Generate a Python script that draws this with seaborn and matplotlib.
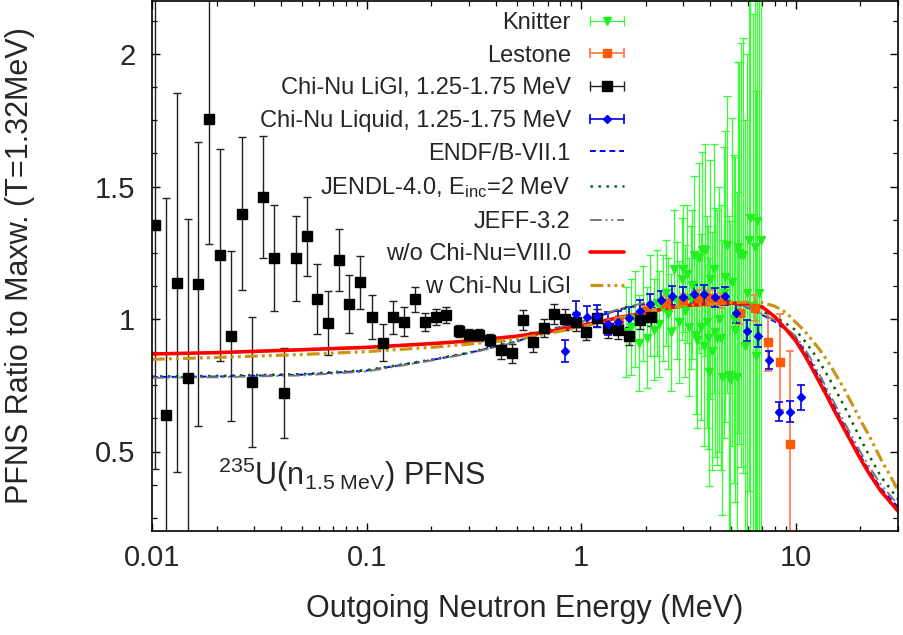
import numpy as np
import pandas as pd
import matplotlib
matplotlib.use("Agg")
import matplotlib.pyplot as plt
import seaborn as sns
from matplotlib.legend_handler import HandlerBase
from matplotlib.lines import Line2D
from matplotlib.container import ErrorbarContainer
from matplotlib.ticker import LogLocator, MultipleLocator, NullFormatter, FixedLocator, FixedFormatter

# ---------------- data ----------------
# Knitter
E_knit = [1.62, 1.70, 1.78, 1.86, 1.94, 2.03, 2.10, 2.18, 2.26, 2.31, 2.40, 2.48, 2.55, 2.63,
          2.71, 2.79, 2.86, 2.94, 2.99, 3.06, 3.12, 3.18, 3.24, 3.30, 3.35, 3.42, 3.48, 3.56,
          3.62, 3.67, 3.74, 3.80, 3.86, 3.91, 3.96, 4.01, 4.08, 4.16, 4.23, 4.31, 4.39, 4.47,
          4.55, 4.63, 4.71, 4.79, 4.88, 4.97, 5.06, 5.15, 5.24, 5.33, 5.40, 5.47, 5.58, 5.69,
          5.80, 5.94, 6.05, 6.15, 6.30, 6.44, 6.52, 6.61, 6.75, 6.92]
R_knit = [0.95, 0.97, 1.00, 0.91, 1.02, 0.93, 1.05, 0.96, 1.06, 0.98, 1.04, 1.10, 1.02, 0.95,
          1.19, 1.07, 0.99, 1.15, 1.19, 1.03, 1.17, 0.97, 1.08, 1.13, 1.24, 0.94, 0.92, 1.23,
          0.97, 1.26, 0.90, 1.26, 0.99, 0.93, 0.80, 1.15, 0.88, 1.19, 0.95, 0.93, 1.00, 0.93,
          0.78, 1.10, 1.16, 1.28, 0.79, 0.77, 1.14, 1.00, 0.96, 0.78, 1.27, 1.25, 1.24, 1.24,
          0.90, 1.10, 1.30, 1.38, 1.05, 1.27, 0.86, 1.37, 1.10, 1.30]
err_knit = [0.17, 0.18, 0.18, 0.18, 0.18, 0.19, 0.19, 0.19, 0.20, 0.20, 0.20, 0.20, 0.21, 0.22,
            0.22, 0.22, 0.23, 0.23, 0.24, 0.25, 0.26, 0.26, 0.27, 0.28, 0.30, 0.30, 0.33, 0.36,
            0.35, 0.37, 0.38, 0.40, 0.40, 0.42, 0.43, 0.45, 0.45, 0.47, 0.47, 0.48, 0.50, 0.50,
            0.52, 0.55, 0.55, 0.56, 0.60, 0.60, 0.62, 0.62, 0.65, 0.70, 0.70, 0.72, 0.80, 0.82,
            0.85, 0.90, 0.95, 1.20, 1.10, 1.30, 1.00, 1.20, 1.20, 1.20]

# Lestone
E_les = [1.5, 2.0, 2.5, 3.0, 3.5, 4.0, 4.5, 5.52, 6.44, 7.43, 8.49, 9.44]
R_les = [0.99, 1.03, 1.06, 1.07, 1.08, 1.08, 1.07, 1.022, 1.041, 0.914, 0.837, 0.528]
err_les = [0.02, 0.02, 0.025, 0.025, 0.03, 0.03, 0.03, 0.04, 0.05, 0.11, 0.18, 0.35]

# Chi-Nu LiGl
E_ligl = [0.01037, 0.01164, 0.01307, 0.01466, 0.0164, 0.0184, 0.0207, 0.0234, 0.0262, 0.0294,
          0.0330, 0.0370, 0.0414, 0.0468, 0.0526, 0.0588, 0.0660, 0.0741, 0.0829, 0.0933,
          0.1056, 0.1189, 0.1325, 0.1488, 0.1675, 0.188, 0.2114, 0.2358, 0.2686, 0.2992,
          0.336, 0.378, 0.4236, 0.4742, 0.537, 0.600, 0.673, 0.748, 0.843, 0.945, 1.059,
          1.19, 1.336, 1.49, 1.672, 1.88, 2.12]
R_ligl = [1.353, 0.636, 1.136, 0.778, 1.132, 1.754, 1.240, 0.936, 1.398, 0.762, 1.460, 1.229,
          0.721, 1.229, 1.312, 1.074, 0.985, 1.222, 1.057, 1.139, 1.009, 0.911, 1.006, 0.989,
          1.074, 0.989, 1.006, 1.015, 0.955, 0.940, 0.940, 0.921, 0.883, 0.870, 0.996, 0.914,
          0.965, 1.019, 0.999, 0.990, 0.952, 1.003, 0.965, 0.958, 0.936, 0.996, 1.009]
err_ligl = [0.92, 0.82, 0.715, 0.60, 0.535, 0.47, 0.40, 0.32, 0.29, 0.245, 0.23, 0.20, 0.17,
            0.16, 0.148, 0.132, 0.12, 0.116, 0.108, 0.10, 0.083, 0.07, 0.062, 0.055, 0.047,
            0.035, 0.03, 0.03, 0.022, 0.022, 0.022, 0.023, 0.033, 0.035, 0.038, 0.038, 0.034,
            0.036, 0.039, 0.035, 0.031, 0.035, 0.035, 0.035, 0.035, 0.035, 0.035]

# Chi-Nu Liquid
E_liq = [0.84, 0.945, 1.06, 1.19, 1.336, 1.49, 1.67, 1.88, 2.1, 2.37, 2.66, 2.98, 3.35, 3.76,
         4.2, 4.71, 5.3, 5.94, 6.68, 7.49, 8.39, 9.37, 10.6]
R_liq = [0.880, 1.019, 1.006, 1.011, 0.983, 0.990, 1.005, 1.03, 1.055, 1.072, 1.088, 1.084,
         1.094, 1.094, 1.082, 1.087, 1.021, 0.956, 0.936, 0.845, 0.650, 0.650, 0.704]
err_liq = [0.041, 0.05, 0.042, 0.043, 0.042, 0.04, 0.04, 0.04, 0.04, 0.035, 0.035, 0.035,
           0.035, 0.035, 0.035, 0.035, 0.035, 0.04, 0.04, 0.035, 0.035, 0.04, 0.047]

# evaluated curves (energy grid in MeV)
E_curve = [0.01, 0.02, 0.05, 0.1, 0.2, 0.3, 0.5, 0.7, 1.0, 1.5, 2.0, 2.5, 3.0, 4.0, 5.0, 6.0,
           7.0, 8.0, 9.0, 10.0, 11.0, 12.0, 13.0, 14.0, 15.0, 17.0, 20.0, 22.0, 25.0, 30.0]
R_endf = [0.781, 0.783, 0.790, 0.805, 0.845, 0.872, 0.915, 0.958, 0.990, 1.035, 1.058, 1.070,
          1.076, 1.078, 1.065, 1.042, 1.015, 0.990, 0.960, 0.928, 0.880, 0.825, 0.772, 0.722,
          0.675, 0.590, 0.485, 0.428, 0.360, 0.290]
R_jendl = [0.783, 0.785, 0.792, 0.807, 0.846, 0.873, 0.916, 0.958, 0.990, 1.035, 1.058, 1.070,
           1.076, 1.078, 1.068, 1.048, 1.028, 1.008, 0.983, 0.958, 0.918, 0.877, 0.835, 0.790,
           0.748, 0.665, 0.550, 0.485, 0.405, 0.320]
R_jeff = [0.778, 0.780, 0.787, 0.802, 0.843, 0.870, 0.913, 0.955, 0.988, 1.038, 1.062, 1.074,
          1.080, 1.080, 1.066, 1.044, 1.018, 0.995, 0.967, 0.935, 0.890, 0.838, 0.786, 0.737,
          0.690, 0.605, 0.500, 0.443, 0.375, 0.300]
R_viii = [0.868, 0.873, 0.884, 0.893, 0.907, 0.917, 0.935, 0.952, 0.975, 1.005, 1.025, 1.040,
          1.050, 1.058, 1.060, 1.057, 1.045, 1.008, 0.962, 0.918, 0.865, 0.810, 0.757, 0.709,
          0.661, 0.579, 0.474, 0.417, 0.350, 0.275]
R_wchinu = [0.848, 0.855, 0.866, 0.877, 0.893, 0.905, 0.925, 0.945, 0.970, 1.003, 1.025, 1.040,
            1.050, 1.058, 1.062, 1.064, 1.062, 1.048, 1.025, 0.988, 0.955, 0.918, 0.882, 0.845,
            0.805, 0.730, 0.620, 0.560, 0.470, 0.355]

x_ticks = [0.01, 0.1, 1, 10]
x_ticklabels = ["0.01", "0.1", "1", "10"]
y_ticks = [0.5, 1.0, 1.5, 2.0]
y_ticklabels = ["0.5", "1", "1.5", "2"]

labels = ["Knitter", "Lestone", "Chi-Nu LiGl, 1.25-1.75 MeV", "Chi-Nu Liquid, 1.25-1.75 MeV",
          "ENDF/B-VII.1", r"JENDL-4.0, E$_{\mathrm{inc}}$=2 MeV", "JEFF-3.2",
          "w/o Chi-Nu=VIII.0", "w Chi-Nu LiGl"]

# ---------------- style ----------------
sns.set_theme(style="ticks")
plt.rcParams["font.family"] = ["Liberation Sans", "DejaVu Sans"]
plt.rcParams["mathtext.fontset"] = "custom"
plt.rcParams["mathtext.rm"] = "Liberation Sans"
plt.rcParams["mathtext.it"] = "Liberation Sans:italic"
plt.rcParams["mathtext.bf"] = "Liberation Sans:bold"

fig = plt.figure(figsize=(9.04, 6.35), dpi=100)
ax = fig.add_axes([152 / 904, 104 / 635, 746 / 904, 530 / 635])
ax.set_xscale("log")


class HErr(HandlerBase):
    def create_artists(self, legend, orig_handle, xdescent, ydescent, width, height,
                       fontsize, trans):
        dline, caplines, barcols = orig_handle.lines
        col = barcols[0].get_colors()[0]
        lw = barcols[0].get_linewidths()[0]
        y = height / 2 - ydescent
        x0, x1 = -xdescent, width - xdescent
        a = Line2D([x0, x1], [y, y], color=col, lw=lw, transform=trans)
        b = Line2D([x0, x1], [y, y], ls="none", marker="|", ms=7, mew=lw, color=col,
                   transform=trans)
        c = Line2D([(x0 + x1) / 2], [y], ls="none", marker=dline.get_marker(),
                   ms=dline.get_markersize(), color=dline.get_markerfacecolor(),
                   mec=dline.get_markeredgecolor(), transform=trans)
        return [a, b, c]


eb_knit = ax.errorbar(E_knit, R_knit, yerr=err_knit, fmt="v", color="#22ee22", ecolor="#33ff33",
                      ms=6, elinewidth=0.9, capsize=2.8, capthick=0.9)
eb_les = ax.errorbar(E_les, R_les, yerr=err_les, fmt="s", color="#ff5a00", ecolor="#ff8050",
                     ms=6, elinewidth=1.3, capsize=3, capthick=1.3)
eb_ligl = ax.errorbar(E_ligl, R_ligl, yerr=err_ligl, fmt="s", color="black", ecolor="#222222",
                      ms=6.5, elinewidth=1.0, capsize=3, capthick=1.0)
eb_liq = ax.errorbar(E_liq, R_liq, yerr=err_liq, fmt="D", color="#0000ff", ecolor="#0000ee",
                     ms=4.5, elinewidth=1.2, capsize=3, capthick=1.2)

curves = pd.DataFrame({"E": E_curve, "endf": R_endf, "jendl": R_jendl, "jeff": R_jeff,
                       "viii": R_viii, "w": R_wchinu})
styles = [
    ("endf", "#0000ff", 1.4, (0, (3.0, 2.0))),
    ("jendl", "#006400", 1.8, (0, (1.0, 2.2))),
    ("jeff", "#777777", 1.4, (0, (6, 2, 1, 2, 1, 2))),
    ("viii", "#ff0000", 2.6, "-"),
    ("w", "#c89614", 2.3, (0, (4, 1.3, 0.9, 1.3, 0.9, 1.3))),
]
line_handles = []
for key, col, lw, ls in styles:
    sns.lineplot(data=curves, x="E", y=key, ax=ax, color=col, lw=lw, linestyle=ls,
                 errorbar=None, legend=False)
    line_handles.append(ax.lines[-1])

ax.set_xlim(0.01, 30)
ax.set_ylim(0.2, 2.2)
ax.xaxis.set_major_locator(FixedLocator(x_ticks))
ax.xaxis.set_major_formatter(FixedFormatter(x_ticklabels))
ax.xaxis.set_minor_locator(LogLocator(base=10, subs=np.arange(2, 10)))
ax.xaxis.set_minor_formatter(NullFormatter())
ax.yaxis.set_major_locator(FixedLocator(y_ticks))
ax.yaxis.set_major_formatter(FixedFormatter(y_ticklabels))
ax.yaxis.set_minor_locator(MultipleLocator(0.125))
ax.tick_params(which="both", direction="in", top=True, right=True, color="black")
ax.tick_params(which="major", length=6, width=1.0, labelsize=21, pad=9)
ax.tick_params(which="minor", length=3.3, width=0.9)
ax.tick_params(axis="y", which="major", pad=12)
for s in ax.spines.values():
    s.set_color("black")
    s.set_linewidth(1.2)
ax.set_xlabel("")
ax.set_ylabel("")

fig.text(525 / 904, 18 / 635, "Outgoing Neutron Energy (MeV)", ha="center", va="baseline",
         fontsize=22)
fig.text(20 / 904, (635 - 266) / 635, "PFNS Ratio to Maxw. (T=1.32MeV)", ha="center",
         va="center", rotation=90, fontsize=22)
ax.text(0.0885, 0.087, r"$^{235}$U(n$_{\mathrm{1.5\ MeV}}$) PFNS", transform=ax.transAxes,
        ha="left", va="baseline", fontsize=22)

handles = [eb_knit, eb_les, eb_ligl, eb_liq] + line_handles
ax.legend(handles, labels, handler_map={ErrorbarContainer: HErr()}, loc="upper right",
          bbox_to_anchor=(0.6327, 0.979), frameon=False, markerfirst=False, fontsize=17,
          handlelength=1.45, handletextpad=0.8, labelspacing=0.45, borderpad=0,
          borderaxespad=0)

fig.savefig("out.png", dpi=100)
